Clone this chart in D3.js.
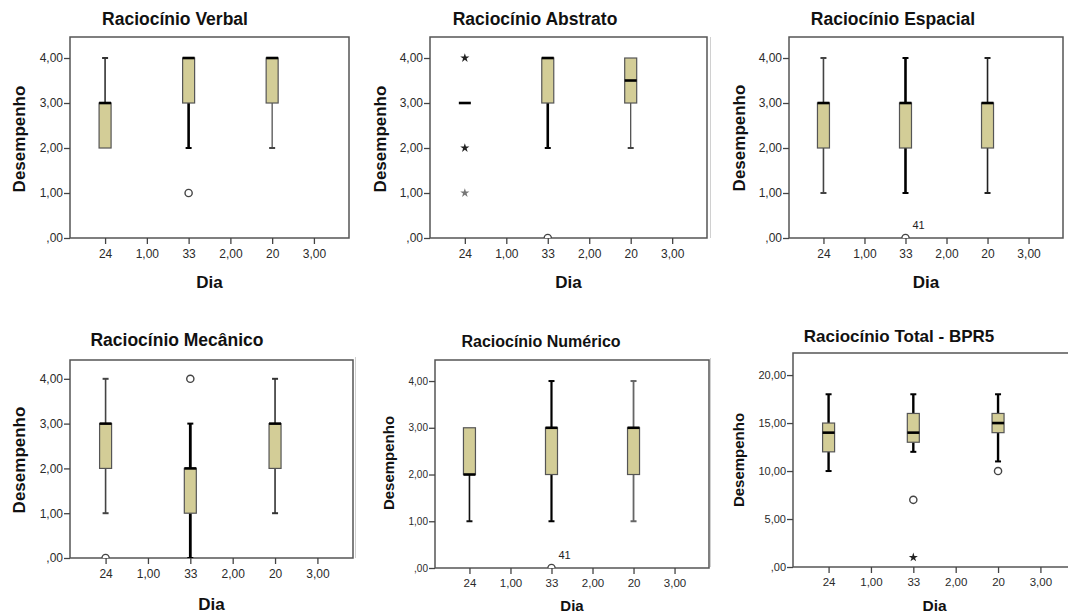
<!DOCTYPE html>
<html>
<head>
<meta charset="utf-8">
<script src="https://cdn.jsdelivr.net/npm/d3@7"></script>
<style>
  body { margin: 0; background: #fff; }
  svg { display: block; font-family: "Liberation Sans", Arial, sans-serif; }
</style>
</head>
<body>
<div id="chart"></div>
<script>
// categories on the x axis (SPSS prints group sizes between the numeric ticks)
var categories = ["24", "1,00", "33", "2,00", "20", "3,00"];
var groups = ["24", "33", "20"];

var titles = ["Raciocínio Verbal", "Raciocínio Abstrato", "Raciocínio Espacial",
  "Raciocínio Mecânico", "Raciocínio Numérico", "Raciocínio Total - BPR5"];

// box statistics, one row per panel, one value per group (24, 33, 20)
var q1 = [[2, 3, 3], [3, 3, 3], [2, 2, 2], [2, 1, 2], [2, 2, 2], [12, 13, 14]];
var medians = [[3, 4, 4], [3, 4, 3.5], [3, 3, 3], [3, 2, 3], [2, 3, 3], [14, 14, 15]];
var q3 = [[3, 4, 4], [3, 4, 4], [3, 3, 3], [3, 2, 3], [3, 3, 3], [15, 16, 16]];
var whiskLow = [[2, 2, 2], [3, 2, 2], [1, 1, 1], [1, 0, 1], [1, 1, 1], [10, 12, 11]];
var whiskHigh = [[4, 4, 4], [3, 4, 4], [4, 4, 4], [4, 3, 4], [3, 4, 4], [18, 18, 18]];

// outliers (circles) and extremes (stars)
var outliers = [[[], [1], []], [[], [0], []], [[], [0], []], [[0], [4], []], [[], [0], []], [[], [7], [10]]];
var extremes = [[[], [], []], [[4, 2, 1], [], []], [[], [], []], [[], [], []], [[], [], []], [[], [1], []]];
var outlierLabels = [null, null, {group: 1, value: 0, text: "41"}, null, {group: 1, value: 0, text: "41"}, null];

var yTicks = [[0, 1, 2, 3, 4], [0, 1, 2, 3, 4], [0, 1, 2, 3, 4], [0, 1, 2, 3, 4], [0, 1, 2, 3, 4], [0, 5, 10, 15, 20]];

// panel layout
var panels = [
  {l: 70, r: 349, t: 37, b: 238, yTop: 4.467, titleX: 175, titleY: 25, titleSize: 17.5, labX: 25, labY: 139, labSize: 17, diaY: 288, diaSize: 17, tickSize: 12, xTickSize: 12},
  {l: 430, r: 707, t: 37, b: 238, yTop: 4.467, titleX: 535, titleY: 25, titleSize: 17.5, labX: 386, labY: 139, labSize: 17, diaY: 288, diaSize: 17, tickSize: 12, xTickSize: 12},
  {l: 789, r: 1063, t: 37, b: 238, yTop: 4.467, titleX: 893, titleY: 25, titleSize: 17.5, labX: 745, labY: 138, labSize: 17, diaY: 288, diaSize: 17, tickSize: 12, xTickSize: 12},
  {l: 70, r: 353, t: 360, b: 558, yTop: 4.42, titleX: 177, titleY: 346, titleSize: 17.5, labX: 25, labY: 460, labSize: 17, diaY: 610, diaSize: 17, tickSize: 12, xTickSize: 12},
  {l: 435, r: 709, t: 360, b: 568, yTop: 4.45, titleX: 541, titleY: 347, titleSize: 16, labX: 394, labY: 463, labSize: 15, diaY: 611, diaSize: 15, tickSize: 10, xTickSize: 11.5},
  {l: 793, r: 1076, t: 353, b: 567, yTop: 22.3, titleX: 899, titleY: 342, titleSize: 17, labX: 744, labY: 460, labSize: 15, diaY: 611, diaSize: 15.5, tickSize: 11, xTickSize: 11.5}
];

// whisker line widths per group (SPSS renders them unevenly)
var whiskerWidths = [[1.6, 2.6, 1.2], [1.6, 2.6, 1.2], [1.6, 2.6, 1.6], [1.6, 2.8, 1.6], [1.6, 2.2, 1.8], [2.4, 2.4, 2.4]];
var whiskerColors = [["#333", "#000", "#444"], ["#333", "#000", "#444"], ["#444", "#000", "#222"], ["#444", "#000", "#333"], ["#111", "#000", "#666"], ["#000", "#000", "#000"]];

var boxFill = "#d3cd97";
var boxWidth = 12;

var svg = d3.select("#chart").append("svg")
  .attr("width", 1068)
  .attr("height", 614);

svg.append("rect").attr("width", 1068).attr("height", 614).attr("fill", "#fff");

// faint image borders left of some panels
var borders = [[710, 37, 238], [355, 357, 558], [710, 358, 567]];
borders.forEach(function(b) {
  svg.append("line")
    .attr("x1", b[0] + 0.5).attr("x2", b[0] + 0.5)
    .attr("y1", b[1]).attr("y2", b[2])
    .attr("stroke", "#d0d0d0");
});

function fmt(v) {
  if (v === 0) return ",00";
  return v.toFixed(2).replace(".", ",");
}

panels.forEach(function(p, i) {
  var g = svg.append("g");

  var x = d3.scalePoint()
    .domain(categories)
    .range([p.l, p.r])
    .padding(0.84);

  var y = d3.scaleLinear()
    .domain([0, p.yTop])
    .range([p.b, p.t]);

  // clip for marks
  g.append("clipPath").attr("id", "clip" + i)
    .append("rect")
    .attr("x", p.l).attr("y", p.t)
    .attr("width", p.r - p.l).attr("height", p.b - p.t);

  // frame
  g.append("rect")
    .attr("x", p.l).attr("y", p.t)
    .attr("width", p.r - p.l).attr("height", p.b - p.t)
    .attr("fill", "none")
    .attr("stroke", "#555")
    .attr("stroke-width", 1.5);

  // y axis
  var yAxis = g.append("g")
    .attr("transform", "translate(" + p.l + ",0)")
    .call(d3.axisLeft(y).tickValues(yTicks[i]).tickSize(6).tickPadding(1).tickFormat(fmt));
  yAxis.select(".domain").remove();
  yAxis.selectAll("line").attr("stroke", "#444").attr("stroke-width", 1.3);
  yAxis.selectAll("text").attr("fill", "#2a2a2a").attr("font-size", p.tickSize).attr("font-family", "Liberation Sans, Arial, sans-serif");

  // x axis
  var xAxis = g.append("g")
    .attr("transform", "translate(0," + p.b + ")")
    .call(d3.axisBottom(x).tickSize(6).tickPadding(5));
  xAxis.select(".domain").remove();
  xAxis.selectAll("line").attr("stroke", "#444").attr("stroke-width", 1.3);
  xAxis.selectAll("text").attr("fill", "#2a2a2a").attr("font-size", p.xTickSize).attr("font-family", "Liberation Sans, Arial, sans-serif");

  var marks = g.append("g").attr("clip-path", "url(#clip" + i + ")");

  groups.forEach(function(grp, j) {
    var cx = x(grp);
    var ww = whiskerWidths[i][j];
    var wc = whiskerColors[i][j];

    // whiskers
    if (whiskLow[i][j] < q1[i][j]) {
      marks.append("line")
        .attr("x1", cx).attr("x2", cx)
        .attr("y1", y(whiskLow[i][j])).attr("y2", y(q1[i][j]))
        .attr("stroke", wc).attr("stroke-width", ww);
      marks.append("line")
        .attr("x1", cx - 3).attr("x2", cx + 3)
        .attr("y1", y(whiskLow[i][j])).attr("y2", y(whiskLow[i][j]))
        .attr("stroke", wc).attr("stroke-width", 2);
    }
    if (whiskHigh[i][j] > q3[i][j]) {
      marks.append("line")
        .attr("x1", cx).attr("x2", cx)
        .attr("y1", y(whiskHigh[i][j])).attr("y2", y(q3[i][j]))
        .attr("stroke", wc).attr("stroke-width", ww);
      marks.append("line")
        .attr("x1", cx - 3).attr("x2", cx + 3)
        .attr("y1", y(whiskHigh[i][j])).attr("y2", y(whiskHigh[i][j]))
        .attr("stroke", wc).attr("stroke-width", 2);
    }

    // box
    if (q3[i][j] > q1[i][j]) {
      marks.append("rect")
        .attr("x", cx - boxWidth / 2)
        .attr("y", y(q3[i][j]))
        .attr("width", boxWidth)
        .attr("height", y(q1[i][j]) - y(q3[i][j]))
        .attr("fill", boxFill)
        .attr("stroke", "#555")
        .attr("stroke-width", 1.2);
    }

    // median
    marks.append("line")
      .attr("x1", cx - boxWidth / 2).attr("x2", cx + boxWidth / 2)
      .attr("y1", y(medians[i][j])).attr("y2", y(medians[i][j]))
      .attr("stroke", "#000").attr("stroke-width", 2.6);

    // outliers
    outliers[i][j].forEach(function(v) {
      marks.append("circle")
        .attr("cx", cx).attr("cy", y(v))
        .attr("r", 3.6)
        .attr("fill", "#fff")
        .attr("stroke", "#444")
        .attr("stroke-width", 1.4);
    });

    // extremes
    extremes[i][j].forEach(function(v, k) {
      marks.append("path")
        .attr("d", d3.symbol().type(d3.symbolStar).size(26)())
        .attr("transform", "translate(" + cx + "," + y(v) + ")")
        .attr("fill", k === 2 ? "#777" : "#222");
    });
  });

  var lab = outlierLabels[i];
  if (lab) {
    g.append("text")
      .attr("x", x(groups[lab.group]) + 7)
      .attr("y", y(lab.value) - 9)
      .attr("font-size", 11)
      .attr("fill", "#222")
      .text(lab.text);
  }

  // title
  g.append("text")
    .attr("x", p.titleX).attr("y", p.titleY)
    .attr("text-anchor", "middle")
    .attr("font-size", p.titleSize)
    .attr("font-weight", "bold")
    .attr("fill", "#111")
    .text(titles[i]);

  // axis titles
  g.append("text")
    .attr("transform", "translate(" + p.labX + "," + p.labY + ") rotate(-90)")
    .attr("text-anchor", "middle")
    .attr("font-size", p.labSize)
    .attr("font-weight", "bold")
    .attr("fill", "#111")
    .text("Desempenho");

  g.append("text")
    .attr("x", (p.l + p.r) / 2).attr("y", p.diaY)
    .attr("text-anchor", "middle")
    .attr("font-size", p.diaSize)
    .attr("font-weight", "bold")
    .attr("fill", "#111")
    .text("Dia");
});
</script>
</body>
</html>
